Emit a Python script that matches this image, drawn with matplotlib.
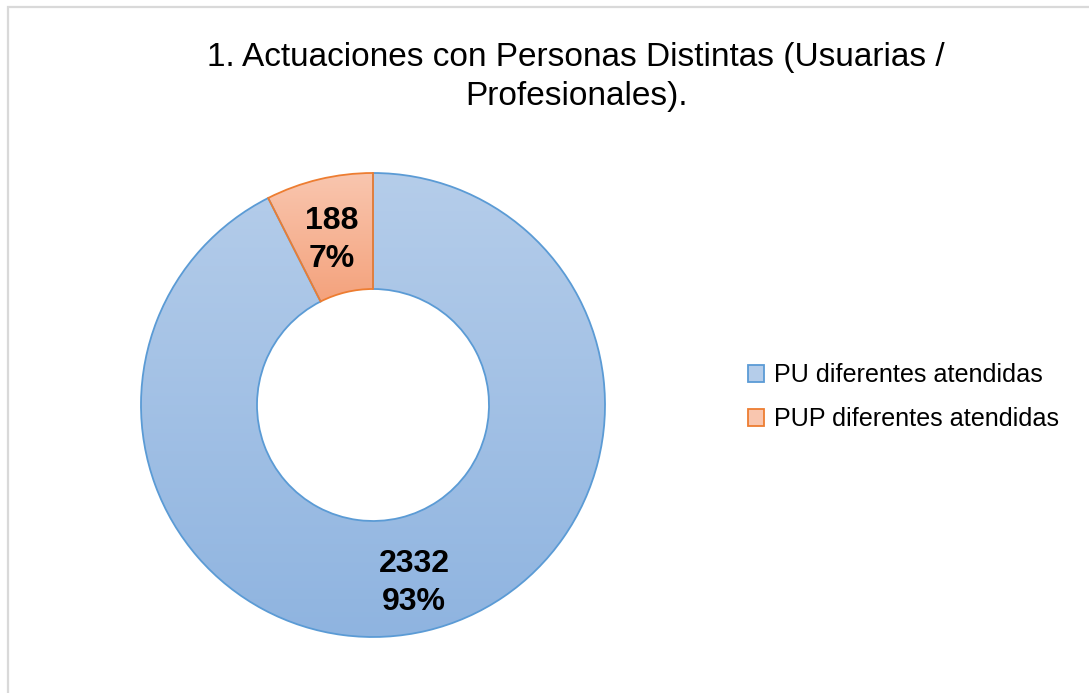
import numpy as np
import matplotlib
matplotlib.use("Agg")
import matplotlib.pyplot as plt
from matplotlib.patches import Patch, Rectangle
from matplotlib.colors import LinearSegmentedColormap

plt.rcParams["font.family"] = ["Liberation Sans", "DejaVu Sans"]

title = "1. Actuaciones con Personas Distintas (Usuarias /\nProfesionales)."
categories = ["PU diferentes atendidas", "PUP diferentes atendidas"]
values = [2332, 188]

edge_colors = ["#5b9bd5", "#ed7d31"]
grad_top = ["#b5cdea", "#f9c6af"]
grad_bottom = ["#8fb4e0", "#f4a27c"]


def label_fmt(pct):
    v = int(round(pct * sum(values) / 100.0))
    return "{}\n{:.0f}%".format(v, pct)


fig = plt.figure(figsize=(10.89, 6.93), dpi=100)
W, H = 1089, 693

# light grey frame (Excel chart area)
fig.patches.append(Rectangle((8 / W, -0.1), 1.2, (H - 7) / H + 0.1, transform=fig.transFigure,
                             fill=False, edgecolor="#d9d9d9", linewidth=1.6))

R = 232 * 1.02
ax = fig.add_axes([(373 - R) / W, (693 - 405 - R) / H, 2 * R / W, 2 * R / H])
wedges, texts, autotexts = ax.pie(values, startangle=90, counterclock=False,
                                  radius=1.0, autopct=label_fmt, pctdistance=0.76,
                                  wedgeprops=dict(width=0.5, linewidth=1.3),
                                  textprops=dict(fontsize=23, fontweight="bold", color="black"))
ax.set_aspect("equal")
ax.axis("off")

grad = np.linspace(0, 1, 256).reshape(-1, 1)
for i, w in enumerate(wedges):
    w.set_facecolor("none")
    w.set_edgecolor(edge_colors[i])
    w.set_zorder(3)
    bb = w.get_path().get_extents()
    cmap = LinearSegmentedColormap.from_list("g%d" % i, [grad_bottom[i], grad_top[i]])
    im = ax.imshow(grad, cmap=cmap, origin="lower", aspect="auto",
                   extent=[bb.x0, bb.x1, bb.y0, bb.y1], zorder=2)
    im.set_clip_path(w)
for t in autotexts:
    t.set_zorder(5)
    t.set_linespacing(1.32)
    x, y = t.get_position()
    t.set_position((x, y - 0.028))
ax.set_xlim(-1.02, 1.02)
ax.set_ylim(-1.02, 1.02)

fig.text(576 / W, 1 - 77 / H, title, ha="center", va="center", fontsize=24, linespacing=1.3)

handles = [Patch(facecolor=grad_top[i], edgecolor=edge_colors[i], linewidth=1.3) for i in range(2)]
fig.legend(handles, categories, loc="center left", bbox_to_anchor=(725 / W, 1 - 397 / H),
           frameon=False, fontsize=18.1, handlelength=0.65, handleheight=0.65,
           handletextpad=0.38, labelspacing=0.8)

fig.savefig("out.png", dpi=100)
